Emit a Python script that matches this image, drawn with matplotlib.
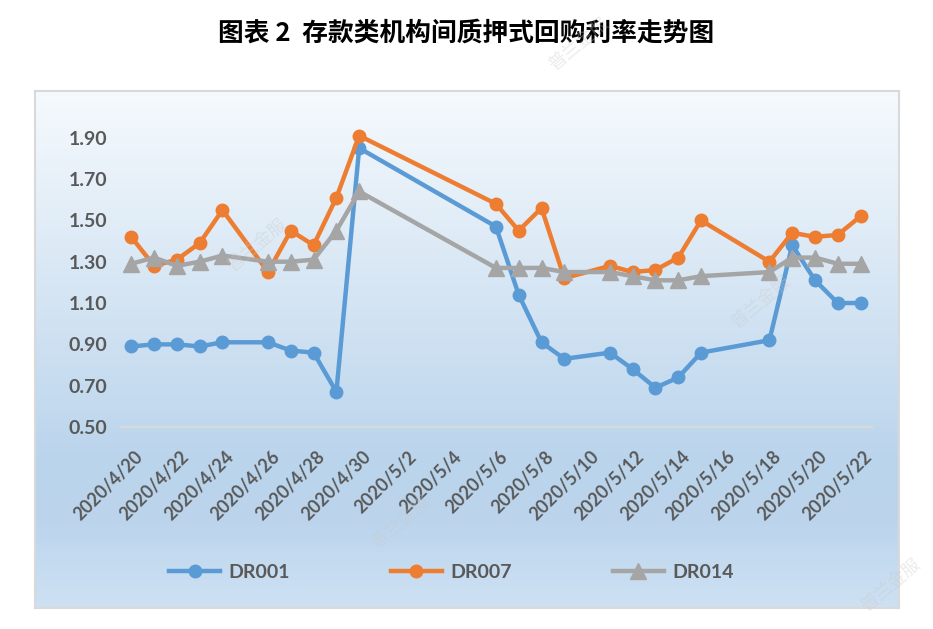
import datetime as dt
import numpy as np
import matplotlib
matplotlib.use("Agg")
import matplotlib.pyplot as plt
import matplotlib.dates as mdates
import matplotlib.transforms as mtransforms
from matplotlib.colors import LinearSegmentedColormap

# trading days (4/26 and 5/9 were working weekend days)
dates = ["2020-04-20", "2020-04-21", "2020-04-22", "2020-04-23", "2020-04-24",
         "2020-04-26", "2020-04-27", "2020-04-28", "2020-04-29", "2020-04-30",
         "2020-05-06", "2020-05-07", "2020-05-08", "2020-05-09", "2020-05-11",
         "2020-05-12", "2020-05-13", "2020-05-14", "2020-05-15", "2020-05-18",
         "2020-05-19", "2020-05-20", "2020-05-21", "2020-05-22"]
dr001 = [0.89, 0.90, 0.90, 0.89, 0.91, 0.91, 0.87, 0.86, 0.67, 1.85,
         1.47, 1.14, 0.91, 0.83, 0.86, 0.78, 0.69, 0.74, 0.86, 0.92,
         1.38, 1.21, 1.10, 1.10]
dr007 = [1.42, 1.28, 1.31, 1.39, 1.55, 1.25, 1.45, 1.38, 1.61, 1.91,
         1.58, 1.45, 1.56, 1.22, 1.28, 1.25, 1.26, 1.32, 1.50, 1.30,
         1.44, 1.42, 1.43, 1.52]
dr014 = [1.29, 1.32, 1.28, 1.30, 1.33, 1.30, 1.30, 1.31, 1.45, 1.64,
         1.27, 1.27, 1.27, 1.25, 1.25, 1.23, 1.21, 1.21, 1.23, 1.25,
         1.32, 1.32, 1.29, 1.29]
yticks = [0.50, 0.70, 0.90, 1.10, 1.30, 1.50, 1.70, 1.90]
xtick_dates = [dt.datetime(2020, 4, 20) + dt.timedelta(days=2 * i) for i in range(17)]

x = [dt.datetime.strptime(d, "%Y-%m-%d") for d in dates]

plt.rcParams['font.family'] = ['Lato', 'Noto Sans CJK SC', 'DejaVu Sans']

fig = plt.figure(figsize=(9.33, 6.29), dpi=100)

# gradient background box
bg = fig.add_axes([0.0375, 0.0334, 0.926, 0.822], zorder=0)
cmap = LinearSegmentedColormap.from_list("bg", [
    (0.0, (246/255, 250/255, 253/255)),
    (0.72, (186/255, 212/255, 236/255)),
    (0.84, (188/255, 213/255, 237/255)),
    (1.0, (206/255, 225/255, 243/255))])
grad = np.linspace(0, 1, 256).reshape(-1, 1)
bg.imshow(grad, aspect='auto', cmap=cmap, extent=[0, 1, 0, 1], origin='upper')
bg.set_xticks([])
bg.set_yticks([])
for s in bg.spines.values():
    s.set_color('#d9d9d9')
    s.set_linewidth(1.5)

ax = fig.add_axes([0.1297, 0.3211, 0.8049, 0.4928], zorder=1)
ax.patch.set_alpha(0)

ax.plot(x, dr001, color='#5b9bd5', lw=3.2, marker='o', ms=9, label='DR001')
ax.plot(x, dr007, color='#ed7d31', lw=3.2, marker='o', ms=9, label='DR007')
ax.plot(x, dr014, color='#a5a5a5', lw=3.2, marker='^', ms=11, label='DR014')

ax.set_ylim(0.5, 2.0)
ax.set_yticks(yticks)
ax.set_yticklabels([f"{v:.2f}" for v in yticks], fontweight='bold')
ax.set_xlim(mdates.date2num(dt.datetime(2020, 4, 20)) - 0.45,
            mdates.date2num(dt.datetime(2020, 5, 22)) + 0.5)
ax.set_xticks(xtick_dates)
ax.set_xticklabels([])

for s in ['top', 'right', 'left']:
    ax.spines[s].set_visible(False)
ax.spines['bottom'].set_color('#d9d9d9')
ax.spines['bottom'].set_linewidth(1.5)
ax.tick_params(length=0, labelsize=14, labelcolor='#595959')
ax.tick_params(axis='y', pad=10)

# rotated date labels
offset = mtransforms.ScaledTranslation(9 / 100, -27 / 100, fig.dpi_scale_trans)
trans = mtransforms.blended_transform_factory(ax.transData, ax.transAxes) + offset
for d in xtick_dates:
    ax.text(mdates.date2num(d), 0, f"{d.year}/{d.month}/{d.day}", transform=trans,
            rotation=45, ha='right', va='center', rotation_mode='anchor',
            fontsize=13, fontweight='bold', color='#595959', clip_on=False)

leg = fig.legend(loc='center', bbox_to_anchor=(0.484, 0.0906), ncol=3, frameon=False,
                 handlelength=2.6, handletextpad=0.45, columnspacing=5.2,
                 prop={'weight': 'bold', 'size': 14})
for t in leg.get_texts():
    t.set_color('#595959')

fig.text(0.5, 0.947, "图表 2  存款类机构间质押式回购利率走势图", ha='center', va='center',
         fontsize=18.5, fontweight='heavy', family=['Noto Sans CJK SC', 'DejaVu Sans'])

# faint watermarks
for wx, wy in [(0.275, 0.61), (0.815, 0.52), (0.62, 0.93), (0.43, 0.17), (0.955, 0.07)]:
    fig.text(wx, wy, "普兰金服", rotation=40, fontsize=13, color='#c8c8c8', alpha=0.35,
             ha='center', va='center', family=['Noto Sans CJK SC'], zorder=5)

fig.savefig("out.png", dpi=100)
